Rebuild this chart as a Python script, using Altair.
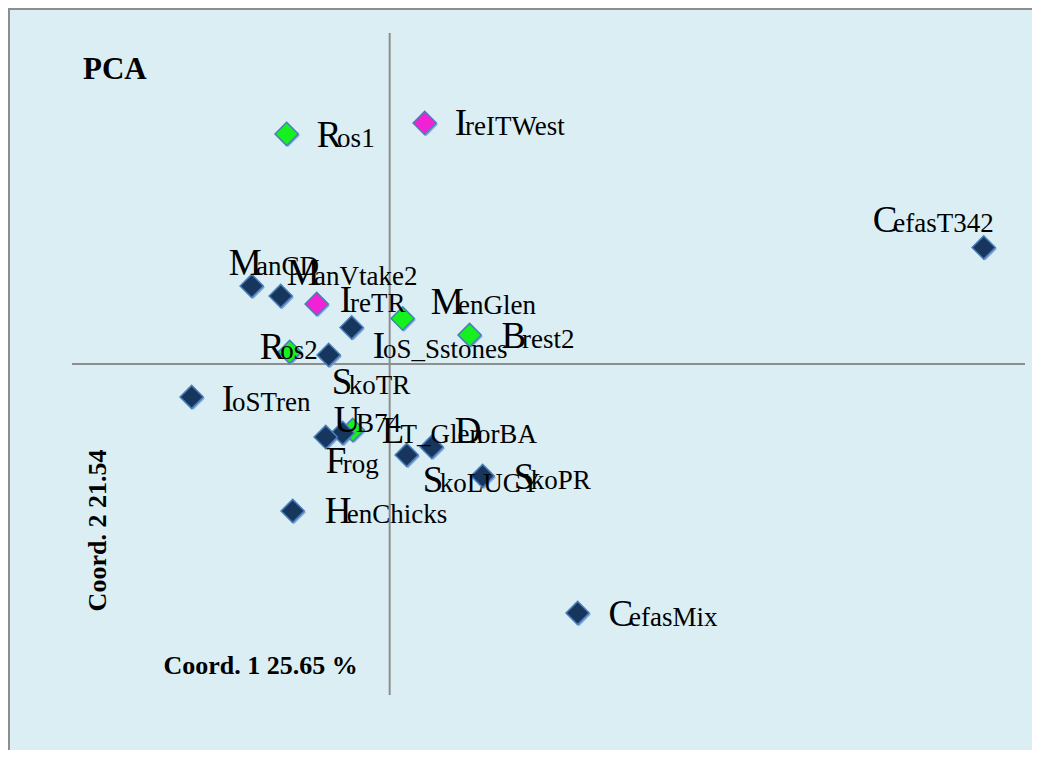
import altair as alt
import pandas as pd

# ---------------- data ----------------
names = ["Ros1", "IreITWest", "CefasT342", "ManCD", "ManVtake2", "IreTR", "MenGlen",
         "IoS_Sstones", "Brest2", "Ros2", "SkoTR", "IoSTren", "UB74", "LT_Glen",
         "DorBA", "Frog", "SkoLUCY", "SkoPR", "HenChicks", "CefasMix"]
coord1 = [-0.0973, 0.0331, 0.5610, -0.1303, -0.1029, -0.0689, 0.0123,
          -0.0359, 0.0755, -0.0944, -0.0576, -0.1870, -0.0349, -0.0444,
          0.0397, -0.0604, 0.0161, 0.0878, -0.0916, 0.1775]
coord2 = [0.2085, 0.2184, 0.1056, 0.0707, 0.0616, 0.0544, 0.0412,
          0.0331, 0.0263, 0.0109, 0.0082, -0.0299, -0.0598, -0.0625,
          -0.0752, -0.0662, -0.0825, -0.1015, -0.1332, -0.2257]
groups = ["B", "C", "A", "A", "A", "C", "B",
          "A", "B", "B", "A", "A", "B", "A",
          "A", "A", "A", "A", "A", "A"]

title_text = "PCA"
x_title = "Coord. 1 25.65 %"
y_title = "Coord. 2 21.54"

# ---------------- layout / style ----------------
W, H = 1024, 742
AX_X = (-0.3, 0.6)        # crosshair extent (plot-area range)
AX_Y = (-0.3, 0.3)
PXX = 953 / 0.9           # pixels per unit
PXY = 662 / 0.6
x_dom = [AX_X[0] - 64 / PXX, AX_X[1] + 7 / PXX]
y_dom = [AX_Y[0] - 55 / PXY, AX_Y[1] + 25 / PXY]

# label placement offsets (pixels) from each marker, like manual Excel label positions
LABEL_OFFSETS = {
    "Ros1": (30, 13), "IreITWest": (30, 12), "CefasT342": (-111, -15),
    "ManCD": (-23, -11), "ManVtake2": (6, -11), "IreTR": (23, 8),
    "MenGlen": (28, -5), "IoS_Sstones": (21, 31), "Brest2": (32, 13),
    "Ros2": (-30, 7), "SkoTR": (3, 39), "IoSTren": (30, 14), "UB74": (-19, 2),
    "LT_Glen": (39, 10), "DorBA": (23, -4), "Frog": (0, 36),
    "SkoLUCY": (16, 37), "SkoPR": (31, 13), "HenChicks": (32, 12),
    "CefasMix": (31, 13),
}
ADV = {"R": .667, "I": .333, "C": .667, "M": .889, "B": .667, "S": .556,
       "U": .722, "L": .611, "D": .722, "F": .556, "H": .722}
BIG, SMALL = 37, 27
FONT = "Liberation Serif, Times New Roman, serif"
BG = "#DAEEF3"
GREY = "#8E8E8E"

df = pd.DataFrame({"name": names, "c1": coord1, "c2": coord2, "grp": groups})
df["rank"] = df["grp"].map({"B": 0, "C": 1, "A": 2})
df["lx"] = df["c1"] + df["name"].map(lambda n: LABEL_OFFSETS[n][0]) / PXX
df["ly"] = df["c2"] - df["name"].map(lambda n: LABEL_OFFSETS[n][1]) / PXY
df["first"] = df["name"].str[0]
df["rest"] = df["name"].str[1:]
df["rx"] = df["lx"] + df["first"].map(ADV) * BIG * 0.83 / PXX

xs = alt.Scale(domain=x_dom, nice=False, zero=False)
ys = alt.Scale(domain=y_dom, nice=False, zero=False)
color_scale = alt.Scale(domain=["A", "B", "C"], range=["#17365D", "#16F01E", "#F022D4"])

base = alt.Chart(df)

# crosshair axes
hline = alt.Chart(pd.DataFrame({"y0": [0.0], "xa": [AX_X[0]], "xb": [AX_X[1]]})).mark_rule(
    color=GREY, strokeWidth=2).encode(
    x=alt.X("xa:Q", scale=xs, title=x_title),
    x2="xb:Q",
    y=alt.Y("y0:Q", scale=ys, title=y_title))
vline = alt.Chart(pd.DataFrame({"x0": [0.0], "ya": [AX_Y[0]], "yb": [AX_Y[1]]})).mark_rule(
    color=GREY, strokeWidth=2).encode(
    x=alt.X("x0:Q", scale=xs, title=x_title),
    y=alt.Y("ya:Q", scale=ys, title=y_title),
    y2="yb:Q")

shadow = base.mark_point(shape="diamond", filled=True, size=540, color="#7FA2D2",
                         opacity=0.9, xOffset=1.5, yOffset=1.5).encode(
    x=alt.X("c1:Q", scale=xs, title=x_title),
    y=alt.Y("c2:Q", scale=ys, title=y_title),
    order=alt.Order("rank:Q"))

points = base.mark_point(shape="diamond", filled=True, size=540, opacity=1,
                         stroke="#4A7EBB", strokeWidth=1.5).encode(
    x=alt.X("c1:Q", scale=xs, title=x_title),
    y=alt.Y("c2:Q", scale=ys, title=y_title),
    fill=alt.Fill("grp:N", scale=color_scale, legend=None),
    order=alt.Order("rank:Q"))

first = base.mark_text(font=FONT, fontSize=BIG, align="left", baseline="alphabetic",
                       color="black").encode(
    x=alt.X("lx:Q", scale=xs, title=x_title),
    y=alt.Y("ly:Q", scale=ys, title=y_title),
    text="first:N")

rest = base.mark_text(font=FONT, fontSize=SMALL, align="left", baseline="alphabetic",
                      color="black").encode(
    x=alt.X("rx:Q", scale=xs, title=x_title),
    y=alt.Y("ly:Q", scale=ys, title=y_title),
    text="rest:N")

one = pd.DataFrame({"t": [title_text]})
pca = alt.Chart(one).mark_text(font=FONT, fontSize=31, fontWeight="bold", align="left",
                               baseline="alphabetic", color="black").encode(
    x=alt.value(75), y=alt.value(71), text="t:N")

border_left = alt.Chart(one).mark_rule(color=GREY, strokeWidth=2).encode(
    x=alt.value(1), y=alt.value(0), y2=alt.value(H))
border_top = alt.Chart(one).mark_rule(color=GREY, strokeWidth=2).encode(
    x=alt.value(0), x2=alt.value(W), y=alt.value(1))

chart = alt.layer(hline, vline, shadow, points, first, rest, pca, border_left, border_top).properties(
    width=W, height=H, padding=0, autosize=alt.AutoSizeParams(type="none"),
    background=BG
).configure_view(stroke=None, fill=BG).configure_text(
    font=FONT
).configure_mark(
    font=FONT
).configure_axis(
    domain=False, ticks=False, labels=False, grid=False,
    titleFont=FONT, titleFontSize=26, titleFontWeight="bold", titleColor="black"
).configure_axisX(
    titleX=155, titleY=-77, titleAlign="left", titleBaseline="alphabetic"
).configure_axisY(
    titleX=97, titleY=522, titleAngle=270, titleAlign="center", titleBaseline="alphabetic"
)

chart.save("out.html", embed_options={"renderer": "svg", "actions": False})
